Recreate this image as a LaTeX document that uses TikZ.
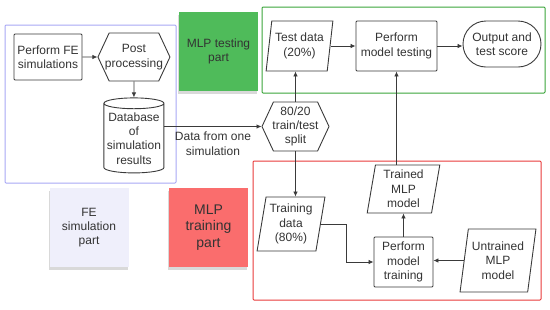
\documentclass[tikz,border=0pt]{standalone}
\usepackage{fontspec}
\setmainfont{Liberation Sans}
\usetikzlibrary{arrows.meta,positioning,shapes.geometric,shapes.symbols,shadows}
\definecolor{LineDark}{HTML}{3A3A3A}
\definecolor{TextDark}{HTML}{333333}
\definecolor{FrameBlue}{HTML}{A8A8F5}
\definecolor{FrameGreen}{HTML}{3AA43A}
\definecolor{FrameRed}{HTML}{E83A3A}
\definecolor{NoteGreen}{HTML}{4FBB5A}
\definecolor{NoteRed}{HTML}{FA6D6D}
\definecolor{NoteLilac}{HTML}{EFEFFB}

\begin{document}
\begin{tikzpicture}[
    x=1pt, y=-1pt,
    font=\fontsize{12}{14.3}\selectfont, text=TextDark,
    % boxes of the flow chart
    proc/.style={draw=LineDark, line width=0.9pt, rounded corners=1pt, align=center, inner sep=0pt},
    hexa/.style={signal, signal to=east and west, signal pointer angle=130, draw=LineDark, line width=0.9pt, align=center, inner ysep=0pt, inner xsep=-8pt},
    data/.style={trapezium, trapezium left angle=79, trapezium right angle=101, trapezium stretches=true, draw=LineDark, line width=0.9pt, align=center, inner sep=0pt},
    store/.style={cylinder, shape border rotate=90, aspect=0.2, draw=LineDark, line width=0.9pt, align=center, inner sep=0pt},
    term/.style={draw=LineDark, line width=0.9pt, rounded corners=23pt, align=center, inner sep=0pt},
    % sticky notes and frames
    note/.style={minimum size=79pt, align=center, inner sep=0pt, drop shadow={opacity=0.3, shadow xshift=-1pt, shadow yshift=-3pt}},
    frm/.style={line width=1pt, rounded corners=1pt},
    arr/.style={-{Latex[length=5pt,width=4.5pt]}, line width=0.8pt, draw=LineDark}
]
\useasboundingbox (0,0) rectangle (550,309);

% frames round the three parts
\draw[frm, FrameBlue] (5,25) rectangle (176,183);
\draw[frm, FrameGreen] (262,7) rectangle (545,93);
\draw[frm, FrameRed] (253,161) rectangle (541,300);

% sticky notes
\node[note, fill=NoteGreen] (notetest) at (218.5,51.5) {MLP testing\\part};
\node[note, fill=NoteRed, font=\fontsize{14}{16.7}\selectfont] (notetrain) at (208.5,227.5) {MLP\\training\\part};
\node[note, fill=NoteLilac] (notefe) at (89,227.5) {FE\\simulation\\part};

% FE simulation part
\node[proc, minimum width=68pt, minimum height=46pt] (fe) at (48,57) {Perform FE\\simulations};
\node[hexa, minimum width=72pt, minimum height=48pt, right=15pt of fe] (post) {Post\\processing};
\node[store, minimum width=60pt, minimum height=75pt, below=16pt of post] (db) {Database\\of\\simulation\\results};

% split and testing part
\node[hexa, minimum width=67pt, minimum height=49pt] (split) at (295.5,126.5) {80/20\\train/test\\split};
\node[data, minimum width=67pt, minimum height=50pt] (testdata) at (299.5,46) {Test data\\(20\%)};
\node[proc, minimum width=81pt, minimum height=50pt] (testing) at (396.5,46) {Perform\\model testing};
\node[term, minimum width=78pt, minimum height=46pt] (output) at (502,44) {Output and\\test score};

% training part
\node[data, minimum width=68pt, minimum height=54pt] (traindata) at (291,224) {Training\\data\\(80\%)};
\node[proc, minimum width=59pt, minimum height=50pt] (training) at (403.5,262) {Perform\\model\\training};
\node[data, trapezium left angle=81, trapezium right angle=99, minimum width=73pt, minimum height=48pt] (trained) at (403.5,189) {Trained\\MLP\\model};
\node[data, minimum width=76pt, minimum height=63pt] (untrained) at (498,260.5) {Untrained\\MLP\\model};

% connectors
\draw[arr] (fe) -- (post);
\draw[arr] (post) -- (db);
\draw[arr] (db.east |- split.west) -- node[below, align=center, yshift=-2pt]{Data from one\\simulation} (split.west);
\draw[arr] (split.north) -- (split.north |- testdata.south);
\draw[arr] (testdata.east) -- (testdata.east -| testing.west);
\draw[arr] (testing.east) -- (testing.east -| output.west);
\draw[arr] (split.south) -- (split.south |- traindata.north);
\draw[arr] (traindata.east) -- ++(26pt,0) |- (training.west);
\draw[arr] (training) -- (trained);
\draw[arr] (untrained.west) -- (untrained.west -| training.east);
\draw[arr] (trained.north -| testing.south) -- (testing.south);

\end{tikzpicture}
\end{document}
